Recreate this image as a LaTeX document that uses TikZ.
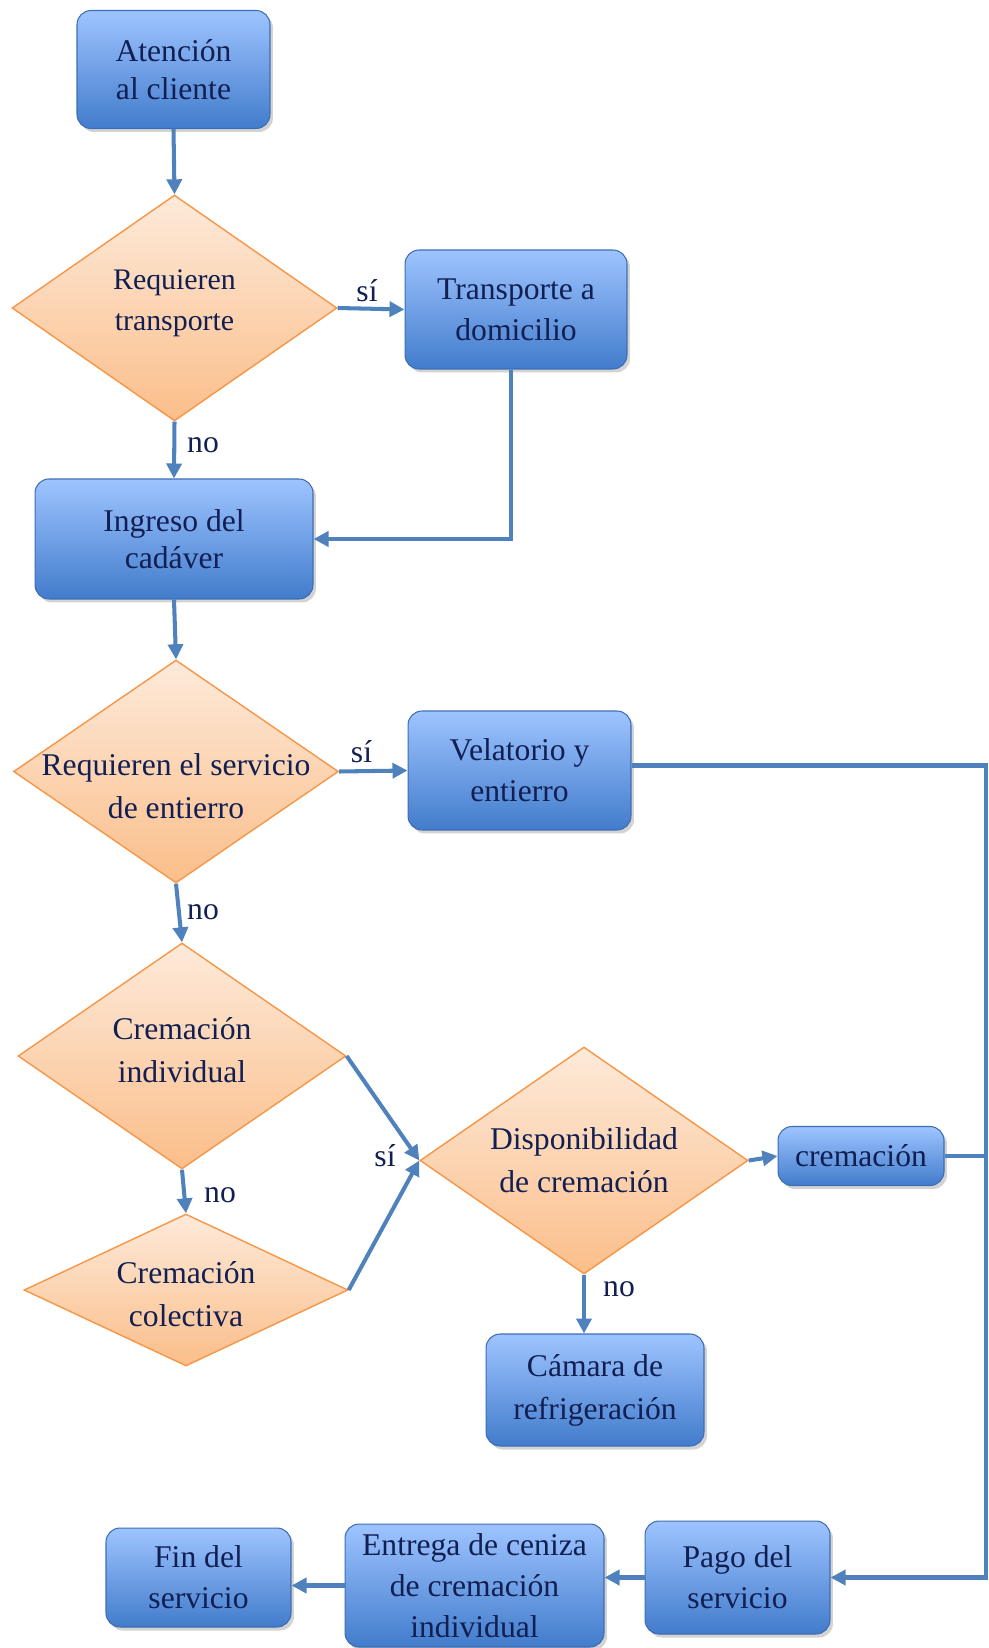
\documentclass[tikz,border=0pt]{standalone}
\usepackage{fontspec}
\setmainfont{Liberation Serif}
\usetikzlibrary{shapes.geometric,arrows.meta,shadows}

\definecolor{lineblue}{RGB}{79,129,189}
\definecolor{boxtop}{RGB}{158,196,255}
\definecolor{boxbot}{RGB}{66,124,204}
\definecolor{boxedge}{RGB}{60,110,180}
\definecolor{dtop}{RGB}{253,234,218}
\definecolor{dbot}{RGB}{251,190,138}
\definecolor{dedge}{RGB}{247,150,70}
\definecolor{txt}{RGB}{17,31,82}

\tikzset{
    proc/.style={rectangle, rounded corners=0.28cm, draw=boxedge, line width=0.6pt,
        top color=boxtop, bottom color=boxbot, text=txt, align=center,
        font=\fontsize{18}{23.5}\selectfont,
        drop shadow={shadow xshift=0.06cm, shadow yshift=-0.07cm, opacity=0.35}},
    decision/.style={diamond, draw=dedge, line width=0.8pt, inner sep=0pt,
        top color=dtop, bottom color=dbot},
    dtext/.style={text=txt, align=center, font=\fontsize{18}{24.5}\selectfont},
    flow/.style={draw=lineblue, line width=2.3pt, -{Triangle[length=0.3cm,width=0.3cm]}},
    link/.style={draw=lineblue, line width=2.3pt},
    answer/.style={text=txt, font=\fontsize{18}{21}\selectfont},
}

\begin{document}
\begin{tikzpicture}[x=0.02cm,y=-0.02cm]
            \useasboundingbox (0,0) rectangle (989,1648);
            % boxes and decisions
            \node[proc, minimum width=3.86cm, minimum height=2.36cm,
                font=\fontsize{18}{21.5}\selectfont] (aten) at (173.5,69.5) {Atención\\al cliente};
            \node[decision, minimum width=6.5cm, minimum height=4.52cm,
                label={[dtext, yshift=0.1cm, font=\fontsize{17}{23.5}\selectfont]center:Requieren\\transporte}] (d1) at (174.5,308) {};
            \node[proc, minimum width=4.44cm, minimum height=2.38cm] (tran) at (516,309.5) {Transporte a\\domicilio};
            \node[proc, minimum width=5.56cm, minimum height=2.4cm,
                font=\fontsize{18}{21}\selectfont] (ingr) at (174,539) {Ingreso del\\cadáver};
            \node[decision, minimum width=6.5cm, minimum height=4.46cm,
                label={[dtext, yshift=-0.3cm]center:Requieren el servicio\\de entierro}] (d2) at (176,771.5) {};
            \node[proc, minimum width=4.46cm, minimum height=2.38cm] (vela) at (519.5,770.5) {Velatorio y\\entierro};
            \node[decision, minimum width=6.56cm, minimum height=4.52cm,
                label={[dtext, yshift=0.12cm]center:Cremación\\individual}] (d3) at (182,1056) {};
            \node[decision, minimum width=6.48cm, minimum height=3.04cm,
                label={[dtext, yshift=-0.08cm]center:Cremación\\colectiva}] (d4) at (186,1290) {};
            \node[decision, minimum width=6.56cm, minimum height=4.54cm,
                label={[dtext]center:Disponibilidad\\de cremación}] (disp) at (584,1160.5) {};
            \node[proc, minimum width=3.32cm, minimum height=1.18cm] (crem) at (861,1156) {cremación};
            \node[proc, minimum width=4.36cm, minimum height=2.24cm,
                font=\fontsize{18}{24.5}\selectfont] (cama) at (595,1390) {Cámara de\\refrigeración};
            \node[proc, minimum width=3.7cm, minimum height=2.26cm] (pago) at (737.5,1577.5) {Pago del\\servicio};
            \node[proc, minimum width=5.18cm, minimum height=2.46cm] (entr) at (474.5,1585.5) {Entrega de ceniza\\de cremación\\individual};
            \node[proc, minimum width=3.7cm, minimum height=1.98cm] (fin) at (198.5,1577.5) {Fin del\\servicio};
            \coordinate (rbot) at (986,1577.5);

            % connectors
            \draw[flow] (aten.south) -- (d1.north);
            \draw[flow] (d1.east) -- (tran.west);
            \draw[flow] (d1.south) -- (ingr.north);
            \draw[flow] ([xshift=-0.1cm]tran.south) |- (ingr.east);
            \draw[flow] (ingr.south) -- (d2.north);
            \draw[flow] (d2.east) -- (vela.west);
            \draw[flow] (d2.south) -- (d3.north);
            \draw[flow] (d3.south) -- (d4.north);
            \draw[flow] (d3.east) -- (disp.west);
            \draw[flow] (d4.east) -- (disp.west);
            \draw[flow] (disp.east) -- (crem.west);
            \draw[flow] (disp.south) -- (disp.south |- cama.north);
            \draw[flow] ([yshift=0.1cm]vela.east) -| (rbot) -- (pago.east);
            \draw[link] (crem.east) -- (crem.east -| rbot);
            \draw[flow] (pago.west) -- (pago.west -| entr.east);
            \draw[flow] (entr.west) -- (entr.west -| fin.east);

            % answers
            \node[answer] (si1) at (367,291) {sí};
            \node[answer] (no1) at (203,445) {no};
            \node[answer] (si2) at (361.5,751.5) {sí};
            \node[answer] (no2) at (203,912) {no};
            \node[answer] (no3) at (220,1195) {no};
            \node[answer] (si3) at (385,1156) {sí};
            \node[answer] (no4) at (619,1289) {no};
\end{tikzpicture}
\end{document}
